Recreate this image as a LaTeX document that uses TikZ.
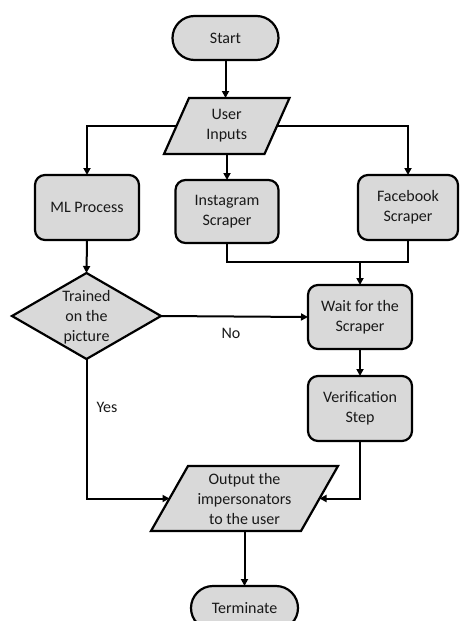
\documentclass[tikz,border=0pt]{standalone}
\usepackage{fontspec}
\setmainfont{Carlito}
\usetikzlibrary{shapes.geometric,shapes.misc,arrows.meta}
\pgfdeclarelayer{background}
\pgfsetlayers{background,main}
\definecolor{boxgray}{HTML}{D9D9D9}
\tikzset{
  base/.style={draw=black, fill=boxgray, line width=2.2pt, outer sep=0pt, inner sep=0pt, align=center, font=\fontsize{16}{20}\selectfont, text=black!90},
  procbox/.style={base, rectangle, rounded corners=10pt},
  termbox/.style={base, rounded rectangle, minimum width=106pt, minimum height=44pt},
  iotext/.style={rectangle, inner sep=0pt, outer sep=0pt, align=center, font=\fontsize{16}{20}\selectfont, text=black!90},
  ioshape/.style={draw=black, fill=boxgray, line width=2.2pt, line join=miter},
  decbox/.style={base, diamond, minimum width=149pt, minimum height=86pt},
  conn/.style={line width=2pt, draw=black, -{Triangle[length=7pt,width=7pt]}},
  plainconn/.style={line width=2pt, draw=black},
  lbl/.style={font=\fontsize{16}{20}\selectfont, text=black!90}
}
\begin{document}
\begin{tikzpicture}[x=1pt,y=-1pt]
\clip (0,0) rectangle (459,621);
\useasboundingbox (0,0) rectangle (459,621);

\node[termbox] (start) at (225.5,38) {Start};
\node[iotext, minimum width=100.5pt, minimum height=56pt] (ui) at (226.75,126) {User\\Inputs};
\begin{pgfonlayer}{background}
\draw[ioshape] ([xshift=-12.5pt]ui.south west) -- ([xshift=-12.5pt]ui.south east) -- ([xshift=12.5pt]ui.north east) -- ([xshift=12.5pt]ui.north west) -- cycle;
\end{pgfonlayer}

\node[procbox, minimum width=104pt, minimum height=65pt] (ml) at (87,207.5) {ML Process};
\node[procbox, minimum width=103pt, minimum height=63pt] (ig) at (227,211.5) {Instagram\\Scraper};
\node[procbox, minimum width=100pt, minimum height=65pt] (fb) at (408,207.5) {Facebook\\Scraper};

\node[decbox] (dia) at (86.5,316) {};
\node[lbl, align=center] (diat) at (86.5,317) {Trained\\on the\\picture};

\node[procbox, minimum width=104pt, minimum height=64pt] (wait) at (360,317) {Wait for the\\Scraper};
\node[procbox, minimum width=104pt, minimum height=65pt] (ver) at (360,408.5) {Verification\\Step};

\node[iotext, minimum width=150pt, minimum height=65pt] (out) at (244.5,498.5) {Output the\\impersonators\\to the user};
\begin{pgfonlayer}{background}
\draw[ioshape] ([xshift=-18.5pt]out.south west) -- ([xshift=-18.5pt]out.south east) -- ([xshift=18.5pt]out.north east) -- ([xshift=18.5pt]out.north west) -- cycle;
\end{pgfonlayer}

\node[termbox, minimum width=107pt] (term) at (244.5,608) {Terminate};

\coordinate (j) at (360,262);

\draw[conn] (start.south) -- (start.south |- ui.north);
\draw[conn] (ui.west) -| (ml.north);
\draw[conn] (ui.east) -| (fb.north);
\draw[conn] (ui.south -| ig.north) -- (ig.north);
\draw[plainconn] (ig.south) |- (j) -| (fb.south);
\draw[conn] (j) -- (wait.north);
\draw[conn] (ml.south) -- (dia.north);
\draw[conn] (dia.east) -- (wait.west);
\node[lbl] (no) at (231,333) {No};
\draw[conn] (wait.south) -- (ver.north);
\draw[conn] (dia.south) |- (out.west);
\node[lbl] (yes) at (107,407) {Yes};
\draw[conn] (ver.south) |- (out.east);
\draw[conn] (out.south -| term.north) -- (term.north);
\end{tikzpicture}
\end{document}
